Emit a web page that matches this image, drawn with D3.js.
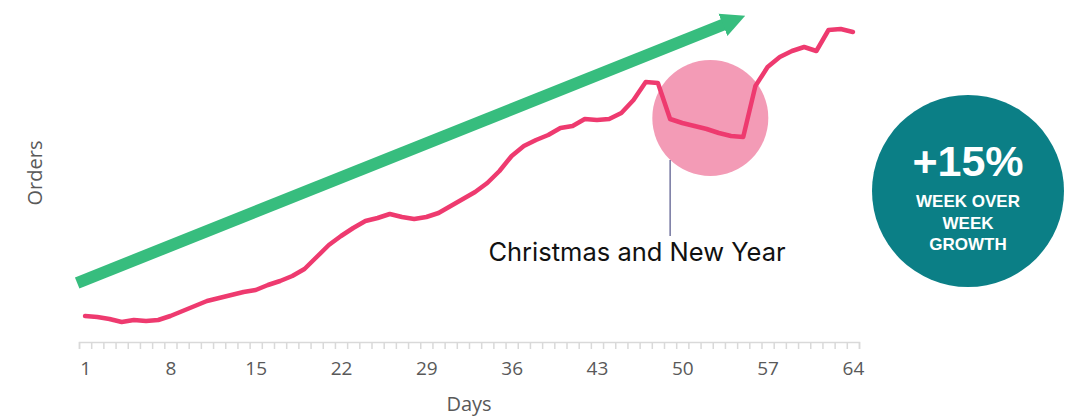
<!DOCTYPE html>
<html lang="en">
<head>
    <meta charset="utf-8" />
    <title>Orders by day</title>
    <script src="https://d3js.org/d3.v7.min.js"></script>
    <style>
        body { margin: 0; background: #fff; }
        .axis path, .axis line { stroke: #d9d9d9; stroke-width: 1.5px; }
        .axis text { fill: #595959; font-family: "Open Sans", sans-serif; font-size: 19px; }
    </style>
</head>
<body>
    <script>
        // data
        var days = d3.range(1, 65);
        var orders = [130, 125, 115, 100, 110, 105, 110, 130, 155, 180,
                      205, 220, 235, 250, 260, 285, 305, 330, 365, 425,
                      485, 530, 570, 605, 620, 640, 625, 615, 625, 645,
                      680, 715, 750, 795, 855, 930, 980, 1010, 1035, 1070,
                      1080, 1115, 1110, 1115, 1145, 1210, 1300, 1295, 1115, 1095,
                      1080, 1065, 1045, 1030, 1025, 1280, 1375, 1425, 1455, 1475,
                      1455, 1560, 1565, 1550];
        var labelDays = [1, 8, 15, 22, 29, 36, 43, 50, 57, 64];
        var holiday = { day: 52.3, value: 1120, note: "Christmas and New Year" };
        var badge = ["+15%", "WEEK OVER", "WEEK", "GROWTH"];

        var width = 1071, height = 417;

        var svg = d3.select("body").append("svg")
            .attr("width", width)
            .attr("height", height);

        // scales
        var x = d3.scaleLinear().domain([0.5, 64.5]).range([79, 859]);
        var y = d3.scaleLinear().domain([0, 1600]).range([342, 22]);

        // trend arrow
        var defs = svg.append("defs");
        defs.append("marker")
            .attr("id", "head")
            .attr("viewBox", "0 0 10 10")
            .attr("refX", 2).attr("refY", 5)
            .attr("markerWidth", 2.0).attr("markerHeight", 2.2)
            .attr("markerUnits", "strokeWidth")
            .attr("orient", "auto")
            .append("path")
            .attr("d", "M0,0 L10,5 L0,10 Z")
            .attr("fill", "#37bd7e");

        svg.append("line")
            .attr("x1", x(0.35)).attr("y1", y(295))
            .attr("x2", x(53.7)).attr("y2", y(1595))
            .attr("stroke", "#37bd7e")
            .attr("stroke-width", 12)
            .attr("marker-end", "url(#head)");

        // highlight circle
        svg.append("circle")
            .attr("cx", x(holiday.day)).attr("cy", y(holiday.value))
            .attr("r", 58)
            .attr("fill", "#f39bb6");

        // annotation
        svg.append("line")
            .attr("x1", x(49.0)).attr("x2", x(49.0))
            .attr("y1", 160).attr("y2", 236)
            .attr("stroke", "#2e3170").attr("stroke-width", 1);

        svg.append("text")
            .attr("x", 637).attr("y", 261)
            .attr("text-anchor", "middle")
            .style("font-family", "Inter, sans-serif")
            .style("font-size", "25.5px")
            .attr("fill", "#111")
            .text(holiday.note);

        // orders line
        var line = d3.line()
            .x(function (d, i) { return x(days[i]); })
            .y(function (d) { return y(d); });

        svg.append("path")
            .datum(orders)
            .attr("d", line)
            .attr("fill", "none")
            .attr("stroke", "#ee3a6f")
            .attr("stroke-width", 4.5)
            .attr("stroke-linejoin", "round")
            .attr("stroke-linecap", "round");

        // x axis: ticks between days, labels every week
        svg.append("g")
            .attr("class", "axis")
            .attr("transform", "translate(0,342)")
            .call(d3.axisBottom(x).tickValues(d3.range(0.5, 65, 1)).tickFormat("").tickSize(7).tickSizeOuter(7));

        var lab = svg.append("g")
            .attr("class", "axis")
            .attr("transform", "translate(0,342)")
            .call(d3.axisBottom(x).tickValues(labelDays).tickFormat(d3.format("d")).tickSize(0).tickPadding(20));
        lab.select(".domain").remove();

        svg.append("text")
            .attr("x", 469).attr("y", 411)
            .attr("text-anchor", "middle")
            .attr("fill", "#595959")
            .style("font-family", "Open Sans, sans-serif")
            .style("font-size", "20px")
            .text("Days");

        svg.append("text")
            .attr("transform", "translate(42,173) rotate(-90)")
            .attr("text-anchor", "middle")
            .attr("fill", "#595959")
            .style("font-family", "Open Sans, sans-serif")
            .style("font-size", "20px")
            .text("Orders");

        // badge
        var b = svg.append("g").attr("transform", "translate(968,191)");
        b.append("circle").attr("r", 96).attr("fill", "#0b7f86");
        b.append("text")
            .attr("y", -15)
            .attr("text-anchor", "middle")
            .attr("fill", "#fff")
            .style("font-family", "Liberation Sans, Arial, sans-serif")
            .style("font-weight", "bold")
            .style("font-size", "43px")
            .text(badge[0]);
        b.selectAll("text.sub")
            .data(badge.slice(1))
            .enter().append("text")
            .attr("class", "sub")
            .attr("y", function (d, i) { return 16 + i * 21.5; })
            .attr("text-anchor", "middle")
            .attr("fill", "#fff")
            .style("font-family", "Liberation Sans, Arial, sans-serif")
            .style("font-weight", "bold")
            .style("font-size", "17px")
            .text(function (d) { return d; });
    </script>
</body>
</html>
